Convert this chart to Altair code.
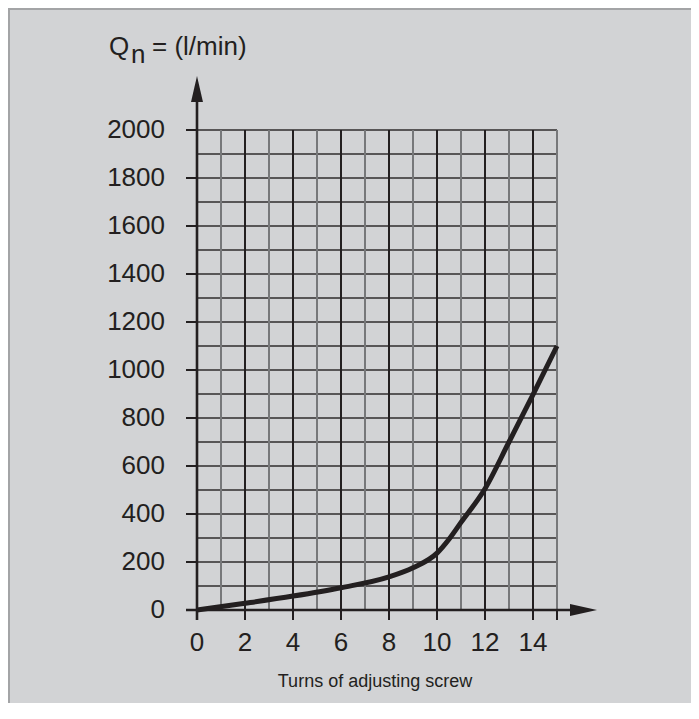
import altair as alt
import pandas as pd

# ---- data ----
turns = [0, 2, 4, 6, 8, 9, 10, 10.5, 11, 12, 13, 14, 15]
flow = [0, 28, 58, 93, 138, 176, 237, 295, 365, 505, 700, 897, 1100]

x_grid_even = [2, 4, 6, 8, 10, 12, 14]
x_grid_odd = [1, 3, 5, 7, 9, 11, 13, 15]
y_grid = [100, 200, 300, 400, 500, 600, 700, 800, 900, 1000,
          1100, 1200, 1300, 1400, 1500, 1600, 1700, 1800, 1900, 2000]
x_tick_values = [0, 2, 4, 6, 8, 10, 12, 14, 15]
x_label_values = [0, 2, 4, 6, 8, 10, 12, 14]
y_tick_values = [0, 200, 400, 600, 800, 1000, 1200, 1400, 1600, 1800, 2000]

INK = "#231f20"
GRAY = "#77787a"
BG = "#d2d3d5"
FONT = "Liberation Sans"

xs = alt.Scale(domain=[0, 15], nice=False, zero=True)
ys = alt.Scale(domain=[0, 2000], nice=False, zero=True)

curve_df = pd.DataFrame({"turns": turns, "flow": flow})

curve = alt.Chart(curve_df).mark_line(
    color=INK, strokeWidth=5, interpolate="monotone", strokeCap="butt"
).encode(
    x=alt.X("turns:Q", scale=xs, axis=None),
    y=alt.Y("flow:Q", scale=ys, axis=None),
)

hgrid = alt.Chart(pd.DataFrame({"gy": y_grid})).mark_rule(
    color="#2f2c2d", strokeWidth=1.6
).encode(y=alt.Y("gy:Q", scale=ys, axis=None))

vgrid_odd = alt.Chart(pd.DataFrame({"gx": x_grid_odd})).mark_rule(
    color=GRAY, strokeWidth=2
).encode(x=alt.X("gx:Q", scale=xs, axis=None))

vgrid_even = alt.Chart(pd.DataFrame({"gx": x_grid_even})).mark_rule(
    color=INK, strokeWidth=2
).encode(x=alt.X("gx:Q", scale=xs, axis=None))

# ticks
y_ticks = alt.Chart(pd.DataFrame({"ty": y_tick_values})).mark_rule(
    color=INK, strokeWidth=2
).encode(y=alt.Y("ty:Q", scale=ys, axis=None), x=alt.value(-11), x2=alt.value(0))
x_ticks = alt.Chart(pd.DataFrame({"tx": x_tick_values})).mark_rule(
    color=INK, strokeWidth=2
).encode(x=alt.X("tx:Q", scale=xs, axis=None), y=alt.value(480), y2=alt.value(490))

# tick labels
y_labels = alt.Chart(pd.DataFrame({"ty": y_tick_values})).mark_text(
    font=FONT, fontSize=26, color=INK, align="right", baseline="middle"
).encode(y=alt.Y("ty:Q", scale=ys, axis=None), x=alt.value(-32),
         text=alt.Text("ty:Q", format="d"))
x_labels = alt.Chart(pd.DataFrame({"tx": x_label_values})).mark_text(
    font=FONT, fontSize=26, color=INK, align="center", baseline="middle"
).encode(x=alt.X("tx:Q", scale=xs, axis=None), y=alt.value(513),
         text=alt.Text("tx:Q", format="d"))

# axis lines with arrows
yaxis_line = alt.Chart().mark_rule(color=INK, strokeWidth=2.6).encode(
    x=alt.value(0), y=alt.value(-46), y2=alt.value(490))
xaxis_line = alt.Chart().mark_rule(color=INK, strokeWidth=2.4).encode(
    y=alt.value(480), x=alt.value(-11), x2=alt.value(376))

up_arrow = alt.Chart().mark_point(
    shape="M0,-1L0.46,1L-0.46,1Z", filled=True, color=INK, opacity=1, size=676
).encode(x=alt.value(0), y=alt.value(-41))
right_arrow = alt.Chart().mark_point(
    shape="M1,0L-1,-0.44L-1,0.44Z", filled=True, color=INK, opacity=1, size=729
).encode(x=alt.value(386.5), y=alt.value(480))

# title texts
t_q = alt.Chart().mark_text(text="Q", font=FONT, fontSize=26, color=INK,
                            align="left", baseline="alphabetic").encode(
    x=alt.value(-88), y=alt.value(-75))
t_n = alt.Chart().mark_text(text="n", font=FONT, fontSize=26, color=INK,
                            align="left", baseline="alphabetic").encode(
    x=alt.value(-66), y=alt.value(-67))
t_unit = alt.Chart().mark_text(text="= (l/min)", font=FONT, fontSize=26, color=INK,
                               align="left", baseline="alphabetic").encode(
    x=alt.value(-45), y=alt.value(-75))
x_title = alt.Chart().mark_text(text="Turns of adjusting screw",
                                font=FONT, fontSize=18, color=INK,
                                align="center", baseline="alphabetic").encode(
    x=alt.value(178), y=alt.value(557))

# frame line at the top/left edge
frame_top = alt.Chart().mark_rule(color="#a3a4a6", strokeWidth=2).encode(
    y=alt.value(-121), x=alt.value(-189), x2=alt.value(494))
frame_left = alt.Chart().mark_rule(color="#a3a4a6", strokeWidth=2).encode(
    x=alt.value(-188), y=alt.value(-122), y2=alt.value(573))

chart = alt.layer(
    hgrid, vgrid_odd, vgrid_even, y_ticks, x_ticks, y_labels, x_labels,
    curve, yaxis_line, xaxis_line,
    up_arrow, right_arrow, t_q, t_n, t_unit, x_title, frame_top, frame_left
).properties(
    width=360, height=480,
    autosize="none",
    padding={"left": 189, "top": 122, "right": 134, "bottom": 93},
).configure(background=BG).configure_view(stroke=None)

chart.save("out.html", embed_options={"renderer": "svg", "actions": False})
